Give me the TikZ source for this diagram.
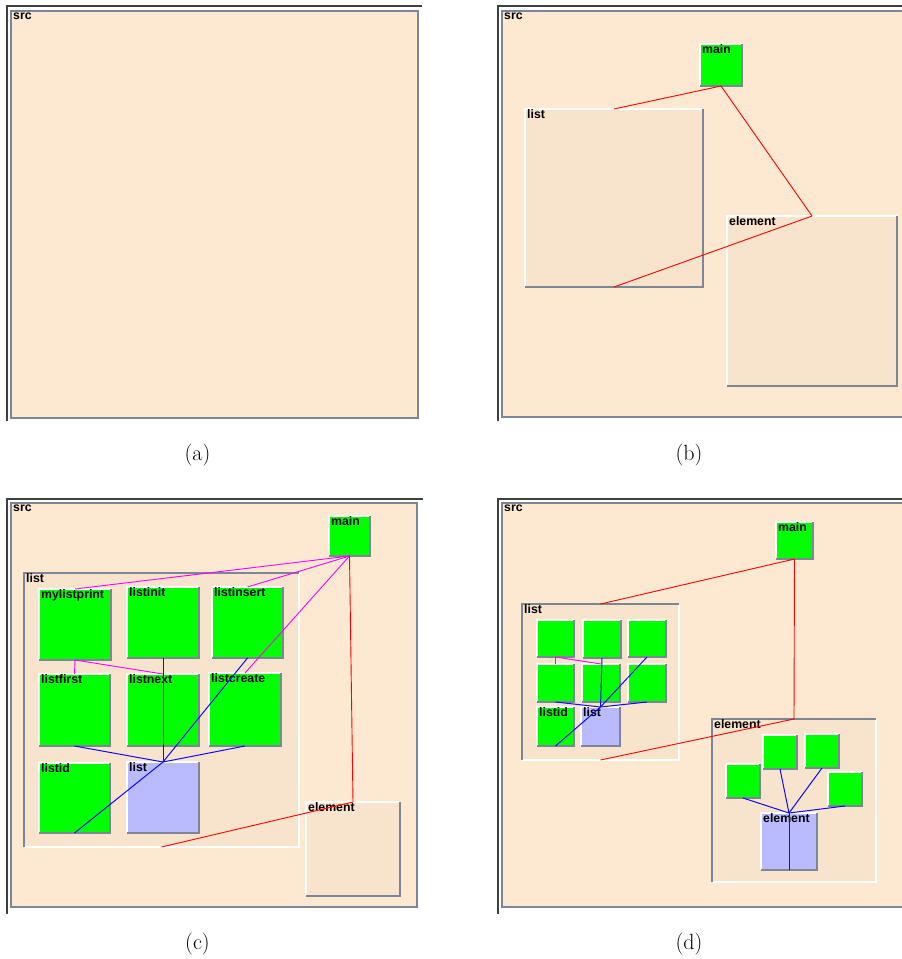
\documentclass[tikz,border=0pt]{standalone}
\usepackage{fontspec}
\newfontfamily\lblfont{Liberation Sans}
\definecolor{srcfill}{RGB}{253,233,210}
\definecolor{contfill}{RGB}{248,228,204}
\definecolor{leaf}{RGB}{0,255,0}
\definecolor{leafsel}{RGB}{186,186,255}
\definecolor{edgeshade}{RGB}{125,134,150}
\definecolor{framedark}{RGB}{64,64,64}
\definecolor{callmag}{RGB}{255,0,255}
\definecolor{useblue}{RGB}{10,10,255}
\tikzset{
  boxbase/.style={inner sep=0pt, outer sep=0pt, draw=none},
  srcbox/.style={boxbase, fill=srcfill},
  contbox/.style={boxbase, fill=contfill},
  leafbox/.style={boxbase, fill=leaf},
  selbox/.style={boxbase, fill=leafsel},
  hilite/.style={draw=white, line width=1.3pt},
  shadeline/.style={draw=edgeshade, line width=1.5pt},
  framedge/.style={draw=framedark, line width=1.8pt},
  srcedge/.style={draw=edgeshade, line width=1.4pt},
  lbltext/.style={font=\lblfont\bfseries\fontsize{12.3}{14}\selectfont, inner sep=0pt, anchor=base west, text=black},
  caption/.style={font=\fontsize{22}{26}\selectfont, inner sep=0pt, anchor=base},
  dep/.style={draw=red, line width=0.9pt},
  call/.style={draw=callmag, line width=0.9pt},
  usage/.style={draw=useblue, line width=1pt},
}
% box given by its corners: name, x1, y1, x2, y2, style
\newcommand\mkbox[6]{%
  \node[#6, anchor=north west, minimum width={#4-#2}, minimum height={#5-#3}] (#1) at (#2,#3) {};}
\newcommand\raisedges[1]{%
  \draw[hilite] (#1.south west) -- (#1.north west) -- (#1.north east);
  \draw[shadeline] (#1.north east) -- (#1.south east) -- (#1.south west);}
\newcommand\sunkedges[1]{%
  \draw[hilite] (#1.north east) -- (#1.south east) -- (#1.south west);
  \draw[shadeline] (#1.south west) -- (#1.north west) -- (#1.north east);}
\newcommand\boxlabel[2]{%
  \node[lbltext] at ([xshift=2pt,yshift=-9.5pt]#1.north west) {#2};}
\newcommand\raised[7]{\mkbox{#1}{#2}{#3}{#4}{#5}{#6}\raisedges{#1}\boxlabel{#1}{#7}}
\newcommand\sunken[7]{\mkbox{#1}{#2}{#3}{#4}{#5}{#6}\sunkedges{#1}\boxlabel{#1}{#7}}
\newcommand\srcpanel[5]{%
  \mkbox{#1}{#2}{#3}{#4}{#5}{srcbox}
  \draw[srcedge] (#1.north west) rectangle (#1.south east);
  \node[lbltext] at ([xshift=2pt,yshift=-8.5pt]#1.north west) {src};}

\begin{document}
\begin{tikzpicture}[x=1pt,y=-1pt]
\useasboundingbox[fill=white] (0,0) rectangle (902,959);
\clip (0,0) rectangle (902,959);

% ---------- (a) ----------
\draw[framedge] (7,421) -- (7,6) -- (422,6);
\srcpanel{asrc}{11}{11}{418}{418}
\node[caption] (capa) at (197.5,460) {(a)};

% ---------- (b) ----------
\draw[framedge] (498,421) -- (498,6) -- (904,6);
\srcpanel{bsrc}{502}{11}{906}{417}
\raised{blist}{525}{109}{703}{287}{contbox}{list}
\raised{belem}{727}{216}{897}{386}{contbox}{element}
\raised{bmain}{700}{44}{742}{86}{leafbox}{main}
\draw[dep] (bmain.south) -- (blist.north);
\draw[dep] (bmain.south) -- (belem.north);
\draw[dep] (belem.north) -- (blist.south);
\node[caption] (capb) at (689,460) {(b)};

% ---------- (c) ----------
\draw[framedge] (7,914) -- (7,499) -- (423,499);
\srcpanel{csrc}{11}{503}{417}{907}
\sunken{clist}{24}{573}{299}{847}{contbox}{list}
\raised{celem}{306}{802}{400}{896}{contbox}{element}
\raised{cmain}{329}{516}{370}{556}{leafbox}{main}
\raised{cprint}{39}{589}{111}{660}{leafbox}{mylistprint}
\raised{cinit}{127}{587}{199}{658}{leafbox}{listinit}
\raised{cinsert}{212}{587}{283}{658}{leafbox}{listinsert}
\raised{cfirst}{39}{674}{110}{746}{leafbox}{listfirst}
\raised{cnext}{127}{674}{199}{746}{leafbox}{listnext}
\raised{ccreate}{209}{673}{281}{746}{leafbox}{listcreate}
\raised{cid}{39}{763}{110}{833}{leafbox}{listid}
\raised{clst}{127}{762}{199}{833}{selbox}{list}
\draw[call] (cmain.south) -- (cprint.north);
\draw[call] (cmain.south) -- (cinsert.north);
\draw[call] (cmain.south) -- (ccreate.north);
\draw[call] (cprint.south) -- (cfirst.north);
\draw[call] (cprint.south) -- (cnext.north);
\draw[dep] (cmain.south) -- (celem.north);
\draw[dep] (celem.north) -- (clist.south);
\foreach \tgt in {cinit,cinsert,cfirst,ccreate,cid}
  \draw[usage] (clst.north) -- (\tgt.south);
\node[caption] (capc) at (197.5,949) {(c)};

% ---------- (d) ----------
\draw[framedge] (498,914) -- (498,499) -- (904,499);
\srcpanel{dsrc}{502}{503}{906}{907}
\sunken{dlist}{522}{604}{679}{760}{contbox}{list}
\sunken{delem}{712}{719}{876}{882}{contbox}{element}
\raised{dmain}{776}{522}{813}{559}{leafbox}{main}
\raised{d11}{537}{620}{574}{657}{leafbox}{}
\raised{d12}{583}{620}{621}{658}{leafbox}{}
\raised{d13}{628}{620}{666}{657}{leafbox}{}
\raised{d21}{537}{664}{574}{702}{leafbox}{}
\raised{d22}{582}{664}{620}{702}{leafbox}{}
\raised{d23}{628}{664}{666}{702}{leafbox}{}
\raised{did}{537}{707}{574}{746}{leafbox}{listid}
\raised{dlst}{581}{707}{620}{746}{selbox}{list}
\raised{dea}{726}{764}{760}{798}{leafbox}{}
\raised{deb}{763}{735}{797}{769}{leafbox}{}
\raised{dec}{805}{734}{839}{768}{leafbox}{}
\raised{ded}{828}{772}{862}{806}{leafbox}{}
\raised{delst}{761}{813}{817}{870}{selbox}{element}
\draw[dep] (dmain.south) -- (dlist.north);
\draw[dep] (dmain.south) -- (delem.north);
\draw[dep] (delem.north) -- (dlist.south);
\draw[call] (d11.south) -- (d21.north);
\draw[call] (d11.south) -- (d22.north);
\foreach \tgt in {d12,d13,d21,d23,did}
  \draw[usage] (dlst.north) -- (\tgt.south);
\foreach \tgt in {dea,deb,dec,ded,delst}
  \draw[usage] (delst.north) -- (\tgt.south);
\node[caption] (capd) at (689,949) {(d)};
\end{tikzpicture}
\end{document}
